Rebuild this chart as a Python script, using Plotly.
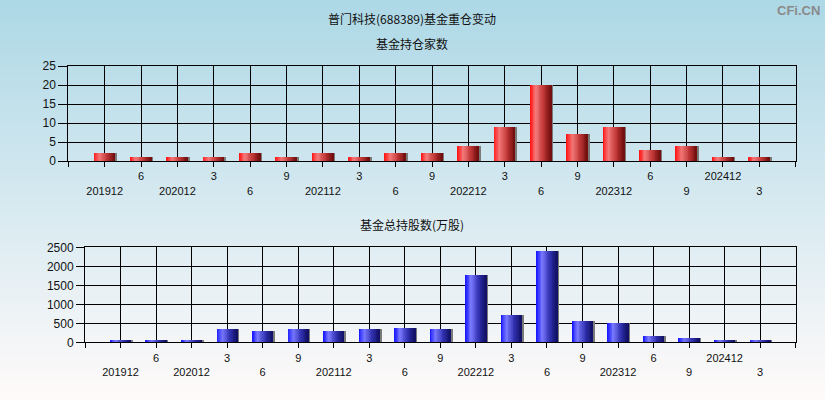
import plotly.graph_objects as go

# ---------------- data ----------------
categories = ["201912", "202006", "202012", "202103", "202106", "202109", "202112",
              "202203", "202206", "202209", "202212", "202303", "202306", "202309",
              "202312", "202406", "202409", "202412", "202503"]
tick_labels = ["201912", "6", "202012", "3", "6", "9", "202112", "3", "6", "9",
               "202212", "3", "6", "9", "202312", "6", "9", "202412", "3"]
fund_count = [2, 1, 1, 1, 2, 1, 2, 1, 2, 2, 4, 9, 20, 7, 9, 3, 4, 1, 1]
fund_shares = [30, 30, 30, 351, 298, 351, 298, 351, 377, 351, 1770, 700, 2400,
               561, 509, 167, 114, 30, 30]

main_title = "普门科技(688389)基金重仓变动"
top_title = "基金持仓家数"
bottom_title = "基金总持股数(万股)"

W, H = 825, 400
FONT = "Liberation Sans, Arial, sans-serif"
CJK = "Noto Sans CJK SC, sans-serif"

fig = go.Figure()


def lerp(c1, c2, t):
    return tuple(int(round(a + (b - a) * t)) for a, b in zip(c1, c2))


def grad(stops, t):
    for (p0, c0), (p1, c1) in zip(stops, stops[1:]):
        if p0 <= t <= p1:
            return lerp(c0, c1, (t - p0) / (p1 - p0))
    return stops[-1][1]


red_stops = [(0.0, (255, 15, 15)), (0.28, (244, 122, 122)), (0.65, (192, 54, 54)), (1.0, (112, 14, 14))]
blue_stops = [(0.0, (18, 18, 255)), (0.28, (122, 122, 255)), (0.65, (50, 50, 178)), (1.0, (16, 16, 100))]


def add_cylinder_bars(values, stops, xa, ya, width=0.57, n=24):
    # shadow
    fig.add_trace(go.Bar(x=categories, y=values, width=width, offset=-width / 2 + 0.06,
                         marker=dict(color="#7a7a7a", line=dict(width=0)),
                         xaxis=xa, yaxis=ya, hoverinfo="skip", showlegend=False))
    step = width / n
    for i in range(n):
        r, g, b = grad(stops, (i + 0.5) / n)
        fig.add_trace(go.Bar(x=categories, y=values, width=step * 1.15,
                             offset=-width / 2 + i * step,
                             marker=dict(color=f"rgb({r},{g},{b})", line=dict(width=0)),
                             xaxis=xa, yaxis=ya, hoverinfo="skip", showlegend=False))


add_cylinder_bars(fund_count, red_stops, "x", "y")
add_cylinder_bars(fund_shares, blue_stops, "x2", "y2")

# two-row alternating tick labels
ticktext = [(lab if i % 2 == 1 else "<br>" + lab) for i, lab in enumerate(tick_labels)]
tickvals = [-1] + categories + [19]
ticktext = [""] + ticktext + [""]

xcommon = dict(type="category", categoryorder="array", categoryarray=categories,
               range=[-1, 19], tickmode="array", tickvals=tickvals, ticktext=ticktext,
               showgrid=True, gridcolor="black", gridwidth=1, showline=True,
               linecolor="black", linewidth=1, mirror=True, ticks="outside",
               ticklen=5, tickcolor="black", tickfont=dict(family=FONT, size=11, color="#111"),
               zeroline=False, fixedrange=True, automargin=False)
ycommon = dict(showgrid=True, gridcolor="black", gridwidth=1, showline=True,
               linecolor="black", linewidth=1, mirror=True, ticks="outside",
               tickcolor="black", tickfont=dict(family=FONT, size=12, color="#111"),
               zeroline=False, fixedrange=True, automargin=False)

fig.update_layout(
    width=W, height=H, autosize=False,
    margin=dict(l=0, r=0, t=0, b=0, pad=0),
    paper_bgcolor="#ffffff", plot_bgcolor="rgba(0,0,0,0)",
    barmode="overlay", bargap=0, showlegend=False,
    xaxis=dict(domain=[68.3 / W, 795.7 / W], anchor="y", **xcommon),
    yaxis=dict(domain=[1 - 161 / H, 1 - 66 / H], anchor="x", range=[0, 25],
               tickvals=[0, 5, 10, 15, 20, 25], ticklen=9, **ycommon),
    xaxis2=dict(domain=[85 / W, 795.7 / W], anchor="y2", **xcommon),
    yaxis2=dict(domain=[1 - 342.3 / H, 1 - 247.3 / H], anchor="x2", range=[0, 2500],
                tickvals=[0, 500, 1000, 1500, 2000, 2500], ticklen=8, **ycommon),
)

# background gradient (lightblue -> snow)
top_c, bot_c = (173, 216, 230), (255, 250, 250)
nstrip = 100
shapes = []
for i in range(nstrip):
    t = i / (nstrip - 1)
    r, g, b = lerp(top_c, bot_c, t)
    y1 = 1 - i / nstrip
    y0 = 1 - (i + 1) / nstrip - 0.002
    shapes.append(dict(type="rect", xref="paper", yref="paper", x0=0, x1=1, y0=max(y0, 0), y1=y1,
                       fillcolor=f"rgb({r},{g},{b})", line=dict(width=0), layer="below"))
fig.update_layout(shapes=shapes)

fig.add_annotation(text=main_title, xref="paper", yref="paper", x=412 / W, y=1 - 18 / H,
                   showarrow=False, xanchor="center", yanchor="middle",
                   font=dict(family=CJK, size=12, color="#111"))
fig.add_annotation(text=top_title, xref="paper", yref="paper", x=412 / W, y=1 - 43 / H,
                   showarrow=False, xanchor="center", yanchor="middle",
                   font=dict(family=CJK, size=12, color="#111"))
fig.add_annotation(text=bottom_title, xref="paper", yref="paper", x=412 / W, y=1 - 224 / H,
                   showarrow=False, xanchor="center", yanchor="middle",
                   font=dict(family=CJK, size=12, color="#111"))
fig.add_annotation(text="<b>CFi.CN</b>", xref="paper", yref="paper", x=822 / W, y=1 - 10 / H,
                   showarrow=False, xanchor="right", yanchor="middle",
                   font=dict(family=FONT, size=13, color="#8a8a8a"))

fig.write_html("out.html", config={"displayModeBar": False},
               post_script="document.body.style.margin='0';document.body.style.padding='0';")
